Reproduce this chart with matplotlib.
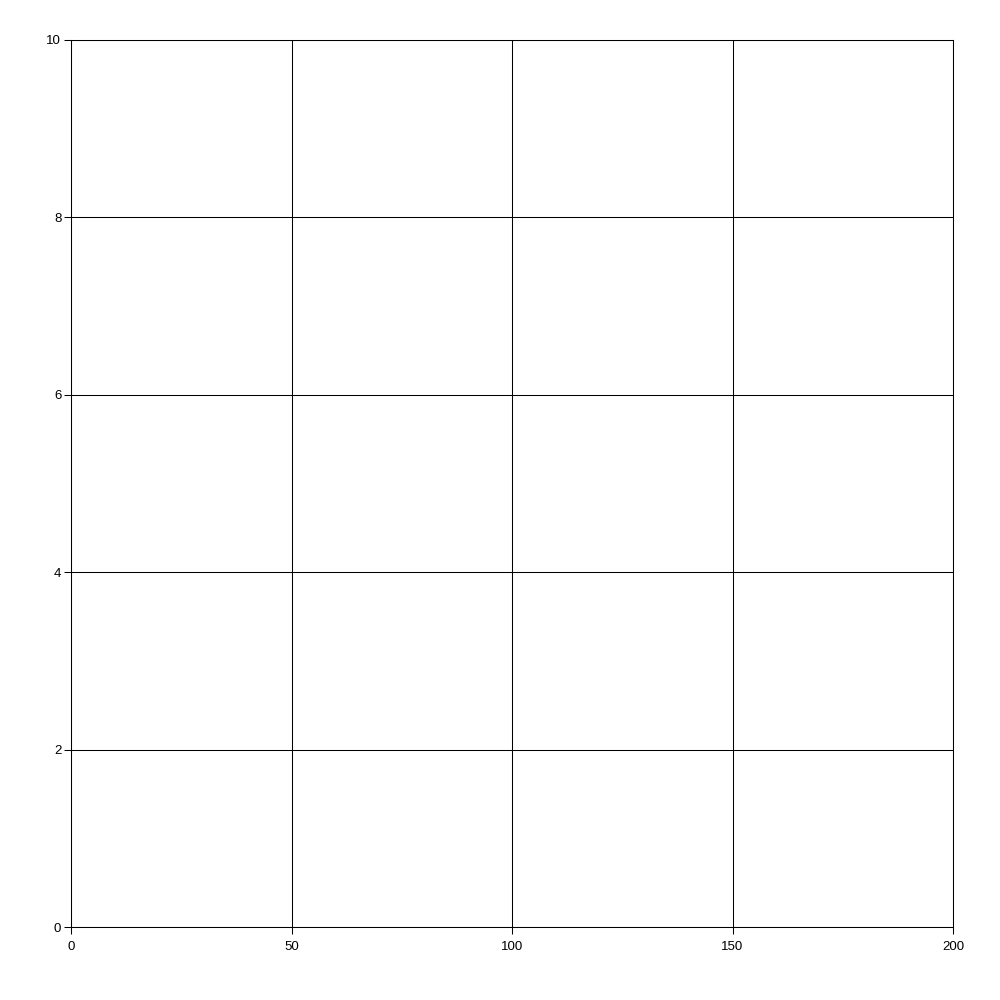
import matplotlib
matplotlib.use("Agg")
import matplotlib.pyplot as plt

x_ticks = [0, 50, 100, 150, 200]
y_ticks = [0, 2, 4, 6, 8, 10]
x_range = [0, 200]
y_range = [0, 10]

plt.rcParams["font.family"] = ["Liberation Sans", "DejaVu Sans"]

fig = plt.figure(figsize=(10, 10), dpi=100)
ax = fig.add_axes([0.071, 0.073, 0.882, 0.887])
ax.set_xlim(x_range)
ax.set_ylim(y_range)
ax.set_xticks(x_ticks)
ax.set_yticks(y_ticks)
ax.grid(True, color="black", linewidth=0.75)
for s in ax.spines.values():
    s.set_color("black")
    s.set_linewidth(0.75)
ax.tick_params(length=5, width=0.75, color="black", labelsize=9.5)
ax.tick_params(axis="x", pad=5)
ax.tick_params(axis="y", pad=2)
fig.savefig("out.png", dpi=100)
